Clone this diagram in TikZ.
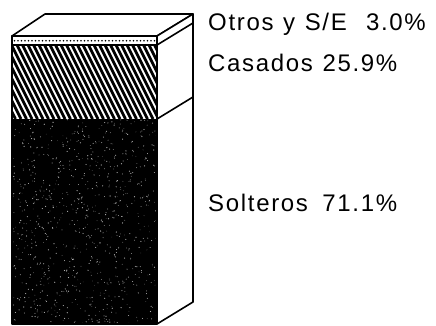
\documentclass[tikz,border=0pt]{standalone}
\usepackage{fontspec}
\setmainfont{Liberation Sans}
\newfontfamily\lblfont[LetterSpace=7]{Liberation Sans}
\begin{document}
\begin{tikzpicture}[x=1pt,y=-1pt,
  outline/.style={line width=1.6pt, line join=round},
  lbl/.style={anchor=base west, inner sep=0pt, font=\lblfont\fontsize{24}{26}\selectfont}]
\useasboundingbox (0,0) rectangle (436,326);
% front face: dark part
\fill[black] (12,119) rectangle (157,324);
\pgfmathsetseed{7}
\foreach \i in {1,...,900}{
  \pgfmathsetmacro\px{12.5+144*rnd}
  \pgfmathsetmacro\py{119.5+204*rnd}
  \pgfmathsetmacro\pr{0.25+0.4*rnd}
  \fill[gray!60] (\px,\py) circle (\pr);
}
% hatched part
\begin{scope}
  \clip (12,45) rectangle (157,119);
  \fill[white] (12,45) rectangle (157,119);
  \foreach \k in {-60,-54.5,...,165}
    \draw[line width=2.9pt] (\k,45) -- (\k+37,119);
\end{scope}
% dotted strip
\fill[white] (12,36) rectangle (157,45);
\foreach \k in {14.5,18,...,155}
  \fill (\k,40.8) circle (0.9);
\draw[outline] (12,45) -- (157,45);
% top face
\draw[outline, fill=white] (12,36) -- (45,14) -- (193,14) -- (157,36) -- cycle;
% side face
\draw[outline, fill=white] (157,36) -- (193,14) -- (193,302) -- (157,324) -- cycle;
\draw[outline] (157,45) -- (193,23);
\draw[outline] (157,119) -- (193,97);
% front outline
\draw[outline] (12,36) rectangle (157,324);
% labels
\node[lbl] (otros) at (208,31) {Otros\hspace{0.4em}y\hspace{0.4em}S/E\hspace{0.8em}3.0\%};
\node[lbl] (casados) at (208,72) {Casados\hspace{0.4em}25.9\%};
\node[lbl] (solteros) at (208,211) {Solteros\hspace{0.6em}71.1\%};
\end{tikzpicture}
\end{document}
